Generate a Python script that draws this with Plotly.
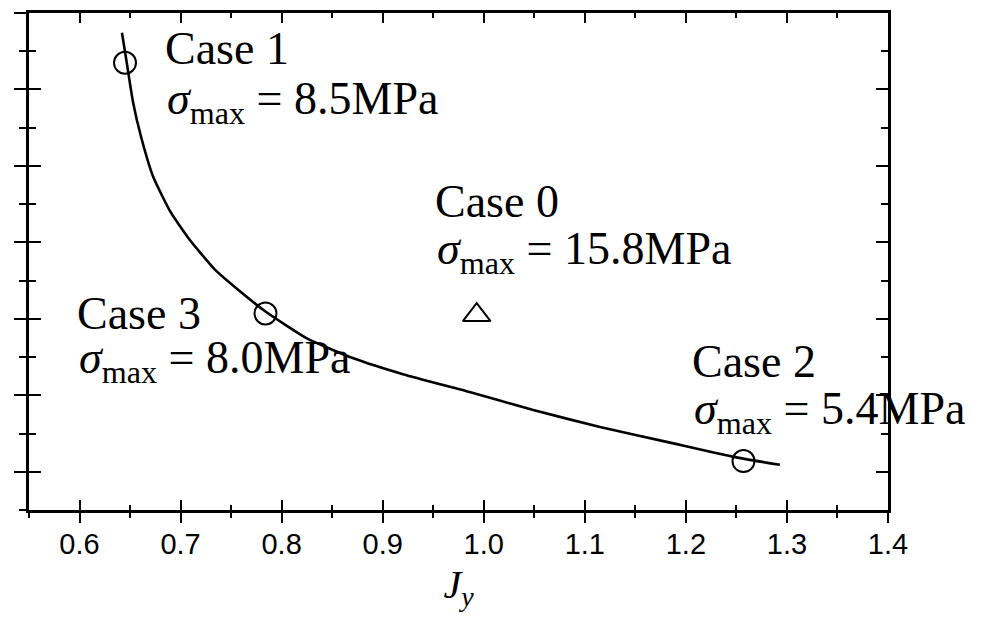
import plotly.graph_objects as go

# ---- data ----
curve_x = [0.642, 0.647, 0.653, 0.661, 0.673, 0.690, 0.709, 0.734, 0.759, 0.784,
           0.825, 0.871, 0.920, 0.986, 1.049, 1.115, 1.181, 1.247, 1.293]
curve_y = [5.742, 5.326, 4.831, 4.375, 3.854, 3.398, 3.034, 2.643, 2.357, 2.096,
           1.745, 1.484, 1.276, 1.042, 0.807, 0.586, 0.391, 0.195, 0.091]

case_circle_x = [0.645, 1.257, 0.784]      # Case 1, Case 2, Case 3
case_circle_y = [5.35, 0.14, 2.07]
case0_x = [0.993]
case0_y = [2.05]

case_names = ["Case 1", "Case 0", "Case 3", "Case 2"]
sigma_values = ["8.5MPa", "15.8MPa", "8.0MPa", "5.4MPa"]

x_tick_vals = [0.6, 0.7, 0.8, 0.9, 1.0, 1.1, 1.2, 1.3, 1.4]
x_tick_text = ["0.6", "0.7", "0.8", "0.9", "1.0", "1.1", "1.2", "1.3", "1.4"]

# ---- layout constants ----
XR = [0.55, 1.40]
YR = [-0.5, 6.0]
label_pos = [  # (x, y) of "Case" line, (x, y) of sigma line
    ((0.6826, 5.53), (0.6846, 4.83)),
    ((0.9498, 3.53), (0.9517, 2.88)),
    ((0.5955, 2.07), (0.5975, 1.445)),
    ((1.2040, 1.445), (1.2060, 0.78)),
]
SERIF = "Liberation Serif, Times New Roman, serif"
SANS = "Liberation Sans, Arial, sans-serif"

fig = go.Figure()
fig.add_trace(go.Scatter(x=curve_x, y=curve_y, mode="lines",
                         line=dict(color="black", width=2.6, shape="spline", smoothing=0.5),
                         showlegend=False, hoverinfo="skip"))
fig.add_trace(go.Scatter(x=case_circle_x, y=case_circle_y, mode="markers",
                         marker=dict(symbol="circle-open", size=22, color="black",
                                     line=dict(width=2, color="black")),
                         showlegend=False))
fig.add_trace(go.Scatter(x=case0_x, y=case0_y, mode="markers", xaxis="x2", yaxis="y2",
                         marker=dict(symbol="triangle-up-open", size=24, color="black",
                                     line=dict(width=2, color="black")),
                         showlegend=False))

for name, sig, ((xc, yc), (xs, ys)) in zip(case_names, sigma_values, label_pos):
    fig.add_annotation(x=xc, y=yc, xref="x", yref="y", text=name, showarrow=False,
                       xanchor="left", yanchor="middle",
                       font=dict(family=SERIF, size=46, color="black"))
    fig.add_annotation(x=xs, y=ys, xref="x", yref="y",
                       text="<i>σ</i><sub>max</sub> = " + sig, showarrow=False,
                       xanchor="left", yanchor="middle",
                       font=dict(family=SERIF, size=46, color="black"))

common_ax = dict(showgrid=False, zeroline=False, linecolor="black", linewidth=2.5,
                 tickcolor="black", tickwidth=2)

fig.update_layout(
    width=974, height=621,
    margin=dict(l=21, r=94, t=2, b=119),
    paper_bgcolor="white", plot_bgcolor="white",
    xaxis=dict(range=XR, showline=True, ticks="outside", ticklen=10,
               tickvals=x_tick_vals, ticktext=x_tick_text,
               tickfont=dict(family=SANS, size=29, color="black"),
               ticklabelstandoff=-4,
               minor=dict(ticks="outside", ticklen=5, dtick=0.05, tick0=0.55,
                          tickcolor="black", tickwidth=2),
               title=dict(text="<i>J</i><sub><i>y</i></sub>",
                          font=dict(family=SERIF, size=40, color="black"), standoff=12),
               **common_ax),
    yaxis=dict(range=YR, showline=True, ticks="outside", ticklen=12, dtick=1, tick0=0,
               showticklabels=False,
               minor=dict(ticks="outside", ticklen=7, dtick=0.5, tick0=0,
                          tickcolor="black", tickwidth=2),
               **common_ax),
    xaxis2=dict(range=XR, overlaying="x", anchor="y2", side="bottom", showline=True,
                mirror="ticks", ticks="inside", ticklen=10, dtick=0.1, tick0=0.6,
                showticklabels=False,
                minor=dict(ticks="inside", ticklen=5, dtick=0.05, tick0=0.55,
                           tickcolor="black", tickwidth=2),
                **common_ax),
    yaxis2=dict(range=YR, overlaying="y", anchor="x2", side="left", showline=True,
                mirror="ticks", ticks="inside", ticklen=12, dtick=1, tick0=0,
                showticklabels=False,
                minor=dict(ticks="inside", ticklen=7, dtick=0.5, tick0=0,
                           tickcolor="black", tickwidth=2),
                **common_ax),
)

fig.write_html("out.html")
